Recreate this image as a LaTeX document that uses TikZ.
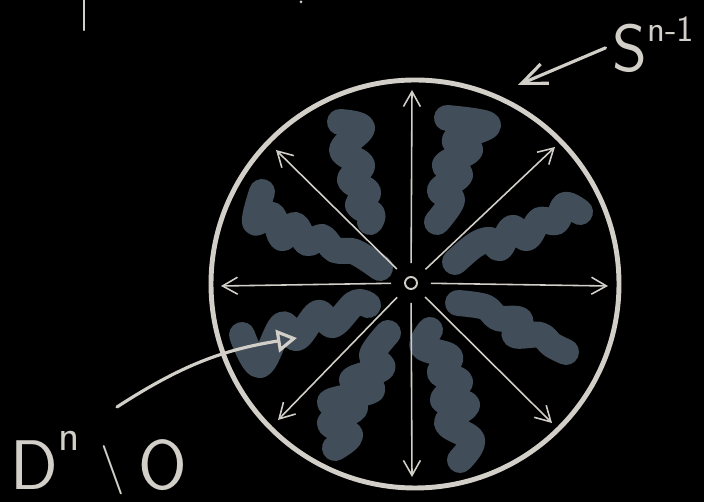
\documentclass[tikz,border=0pt]{standalone}
\usepackage{tikz}
\usetikzlibrary{arrows.meta}
\definecolor{chalk}{HTML}{D2CFC9}
\definecolor{smudge}{HTML}{414D59}

\begin{document}
\begin{tikzpicture}[x=0.02cm, y=-0.02cm,
    ray/.style={chalk, line width=0.9pt, shorten <=0.26cm, -{Straight Barb[length=0.3cm, width=0.34cm]}},
    pointer/.style={chalk, line width=1.8pt, line cap=round},
    blob/.style={smudge, line width=0.52cm, line cap=round, line join=round},
    lbl/.style={chalk, inner sep=0pt, font=\sffamily}]
    \fill[black] (0,0) rectangle (704,502);
    \useasboundingbox (0,0) rectangle (704,502);
    % bits of writing cut off at the top
    \draw[chalk, line width=1.3pt, line cap=round] (84,0) -- (84,30);
    \fill[chalk] (301,2) circle[radius=1.5];
    % shaded region D^n minus origin
    \draw[blob] plot[smooth, tension=0.6] coordinates {(340,122) (362,128) (342,150) (362,165) (350,180) (368,192) (358,205) (372,214) (370,222)};
    \draw[blob] plot[smooth, tension=0.6] coordinates {(447,118) (488,125) (455,140) (470,150) (445,165) (460,175) (440,190) (452,200) (437,222)};
    \draw[blob] plot[smooth, tension=0.6] coordinates {(262,192) (255,222) (272,215) (282,238) (295,225) (307,243) (322,237) (335,250) (355,252) (380,268)};
    \draw[blob] plot[smooth, tension=0.6] coordinates {(455,262) (475,245) (490,240) (500,248) (512,228) (527,238) (540,220) (556,222) (565,205) (580,212)};
    \draw[blob] plot[smooth, tension=0.6] coordinates {(242,335) (260,365) (282,325) (297,338) (318,313) (333,325) (355,303) (368,305)};
    \draw[blob] plot[smooth, tension=0.6] coordinates {(388,333) (372,355) (382,368) (352,380) (372,390) (330,402) (355,408) (330,423) (350,435) (335,448)};
    \draw[blob] plot[smooth, tension=0.6] coordinates {(430,330) (423,347) (450,357) (440,373) (460,382) (443,400) (467,405) (447,423) (472,440) (460,460)};
    \draw[blob] plot[smooth, tension=0.6] coordinates {(458,303) (485,307) (498,318) (520,320) (515,335) (540,335) (552,345) (566,352)};
    % boundary sphere
    \draw[chalk, line width=2.8pt] (415,284) circle[radius=204];
    % origin and radial rays
    \node[draw=chalk, circle, minimum size=0.24cm, inner sep=0pt, line width=1.1pt] (o) at (411,283) {};
    \coordinate (tn) at (412,90);
    \coordinate (tne) at (555,147);
    \coordinate (te) at (608,286);
    \coordinate (tse) at (552,423);
    \coordinate (ts) at (412,477);
    \coordinate (tsw) at (278,420);
    \coordinate (tw) at (221,286);
    \coordinate (tnw) at (276,150);
    \foreach \t in {tn,tne,te,tse,ts,tsw,tw,tnw}
        \draw[ray] (o) -- (\t);
    % labels
    \node[lbl, anchor=base west] (sphere) at (612,72) {\fontsize{38}{38}\selectfont S\raisebox{0.6cm}{\fontsize{21}{21}\selectfont n-1}};
    \coordinate (sphtip) at (518,85);
    \draw[pointer, shorten <=4pt, -{Straight Barb[length=0.5cm, width=0.42cm]}] (sphere.west) -- (sphtip);
    \node[lbl, anchor=base west] (punct) at (10,490) {\fontsize{40}{40}\selectfont D\raisebox{0.8cm}{\fontsize{25}{25}\selectfont n}\hspace{0.3em}\raisebox{0.14cm}{\fontsize{28}{28}\selectfont\textbackslash}\hspace{0.2em}O};
    \coordinate (dtail) at (117,407);
    \coordinate (dtip) at (297,338);
    \draw[pointer, -{Triangle[open, length=0.4cm, width=0.45cm]}] (dtail) to[bend left=12] (dtip);
\end{tikzpicture}
\end{document}
